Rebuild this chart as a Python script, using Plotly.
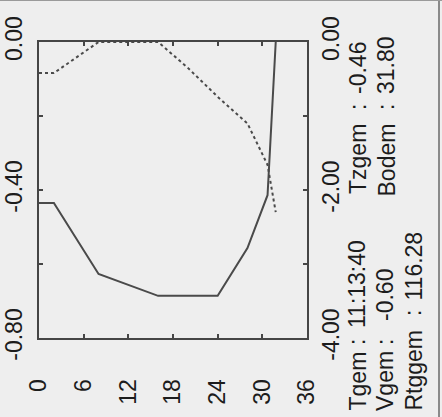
import plotly.graph_objects as go

# ---- data ----
depth_v = [0, 2, 8, 16, 24, 28, 30.7, 31.8]
v_values = [-0.435, -0.435, -0.627, -0.686, -0.686, -0.557, -0.414, 0.0]

depth_t = [0, 2, 8, 16, 20, 24, 28, 30.7, 31.8]
t_values = [-0.42, -0.42, 0.0, 0.0, -0.35, -0.74, -1.10, -1.66, -2.30]

x_ticks = [0, 6, 12, 18, 24, 30, 36]
x_ticktext = ["0", "6", "12", "18", "24", "30", "36"]
y_ticks = [0, -0.2, -0.4, -0.6, -0.8]
y_ticktext = ["0.00", "", "-0.40", "", "-0.80"]
y2_ticks = [0, -1, -2, -3, -4]
y2_ticktext = ["0.00", "", "-2.00", "", "-4.00"]

info_labels = ["Tgem", "Vgem", "Rtggem", "Tzgem", "Bodem"]
info_values = ["11:13:40", "-0.60", "116.28", "-0.46", "31.80"]

# ---- layout geometry ----
W, H = 442, 417
L, R, T, B = 39, 307, 42, 338
BG = "#eeeeee"
INK = "#1c1c1c"
LINE = "#454545"
FONT = "Liberation Sans, Arial, sans-serif"
FS = 23


def px(x):
    return (x - L) / (R - L)


def py(y):
    return (B - y) / (B - T)


fig = go.Figure()
fig.add_trace(go.Scatter(x=depth_v, y=v_values, mode="lines",
                         line=dict(color="#4a4a4a", width=2), yaxis="y"))
fig.add_trace(go.Scatter(x=depth_t, y=t_values, mode="lines",
                         line=dict(color="#4a4a4a", width=2, dash="dot"), yaxis="y2"))

axis_common = dict(showgrid=False, zeroline=False, showline=True, linecolor=LINE,
                   linewidth=2, ticks="inside", ticklen=4, tickwidth=1.5, tickcolor=LINE,
                   tickfont=dict(family=FONT, size=FS, color=INK), tickangle=-90,
                   automargin=False)

fig.update_layout(
    width=W, height=H,
    margin=dict(l=L, r=W - R, t=T, b=H - B, pad=0),
    paper_bgcolor=BG, plot_bgcolor=BG,
    showlegend=False,
    xaxis=dict(range=[0, 36], tickmode="array", tickvals=x_ticks, ticktext=x_ticktext,
               mirror="ticks", ticklabelstandoff=30, **axis_common),
    yaxis=dict(range=[-0.8, 0], tickmode="array", tickvals=y_ticks, ticktext=y_ticktext,
               mirror=False, ticklabelstandoff=6, **axis_common),
    yaxis2=dict(range=[-4, 0], tickmode="array", tickvals=y2_ticks, ticktext=y2_ticktext,
                overlaying="y", side="right", ticklabelstandoff=2, **axis_common),
)

# info text, rotated like the rest of the sheet
rows = [
    # label index, column x, label bottom y, colon y, value bottom y
    (0, 357, 413, 342, 330),
    (1, 385, 413, 342, 323),
    (2, 413, 413, 313, 303),
    (3, 358, 196, 107, 96),
    (4, 386, 199, 107, 96),
]
for i, cx, yl, yc, yv in rows:
    common = dict(xref="paper", yref="paper", showarrow=False, textangle=-90,
                  font=dict(family=FONT, size=FS, color=INK), xanchor="center")
    fig.add_annotation(x=px(cx), y=py(yl), text=info_labels[i], yanchor="bottom", **common)
    fig.add_annotation(x=px(cx), y=py(yc), text=":", yanchor="middle", **common)
    fig.add_annotation(x=px(cx), y=py(yv), text=info_values[i], yanchor="bottom", **common)

# sheet edges from the scan
fig.add_shape(type="line", xref="paper", yref="paper", x0=px(439), x1=px(439),
              y0=py(0), y1=py(H), line=dict(color="#8a8a8a", width=2))
fig.add_shape(type="line", xref="paper", yref="paper", x0=px(0), x1=px(W),
              y0=py(0.5), y1=py(0.5), line=dict(color="#9a9a9a", width=1))

fig.write_html(
    "out.html",
    config={"displayModeBar": False},
    post_script="document.body.style.margin='0';document.body.style.overflow='hidden';",
)
